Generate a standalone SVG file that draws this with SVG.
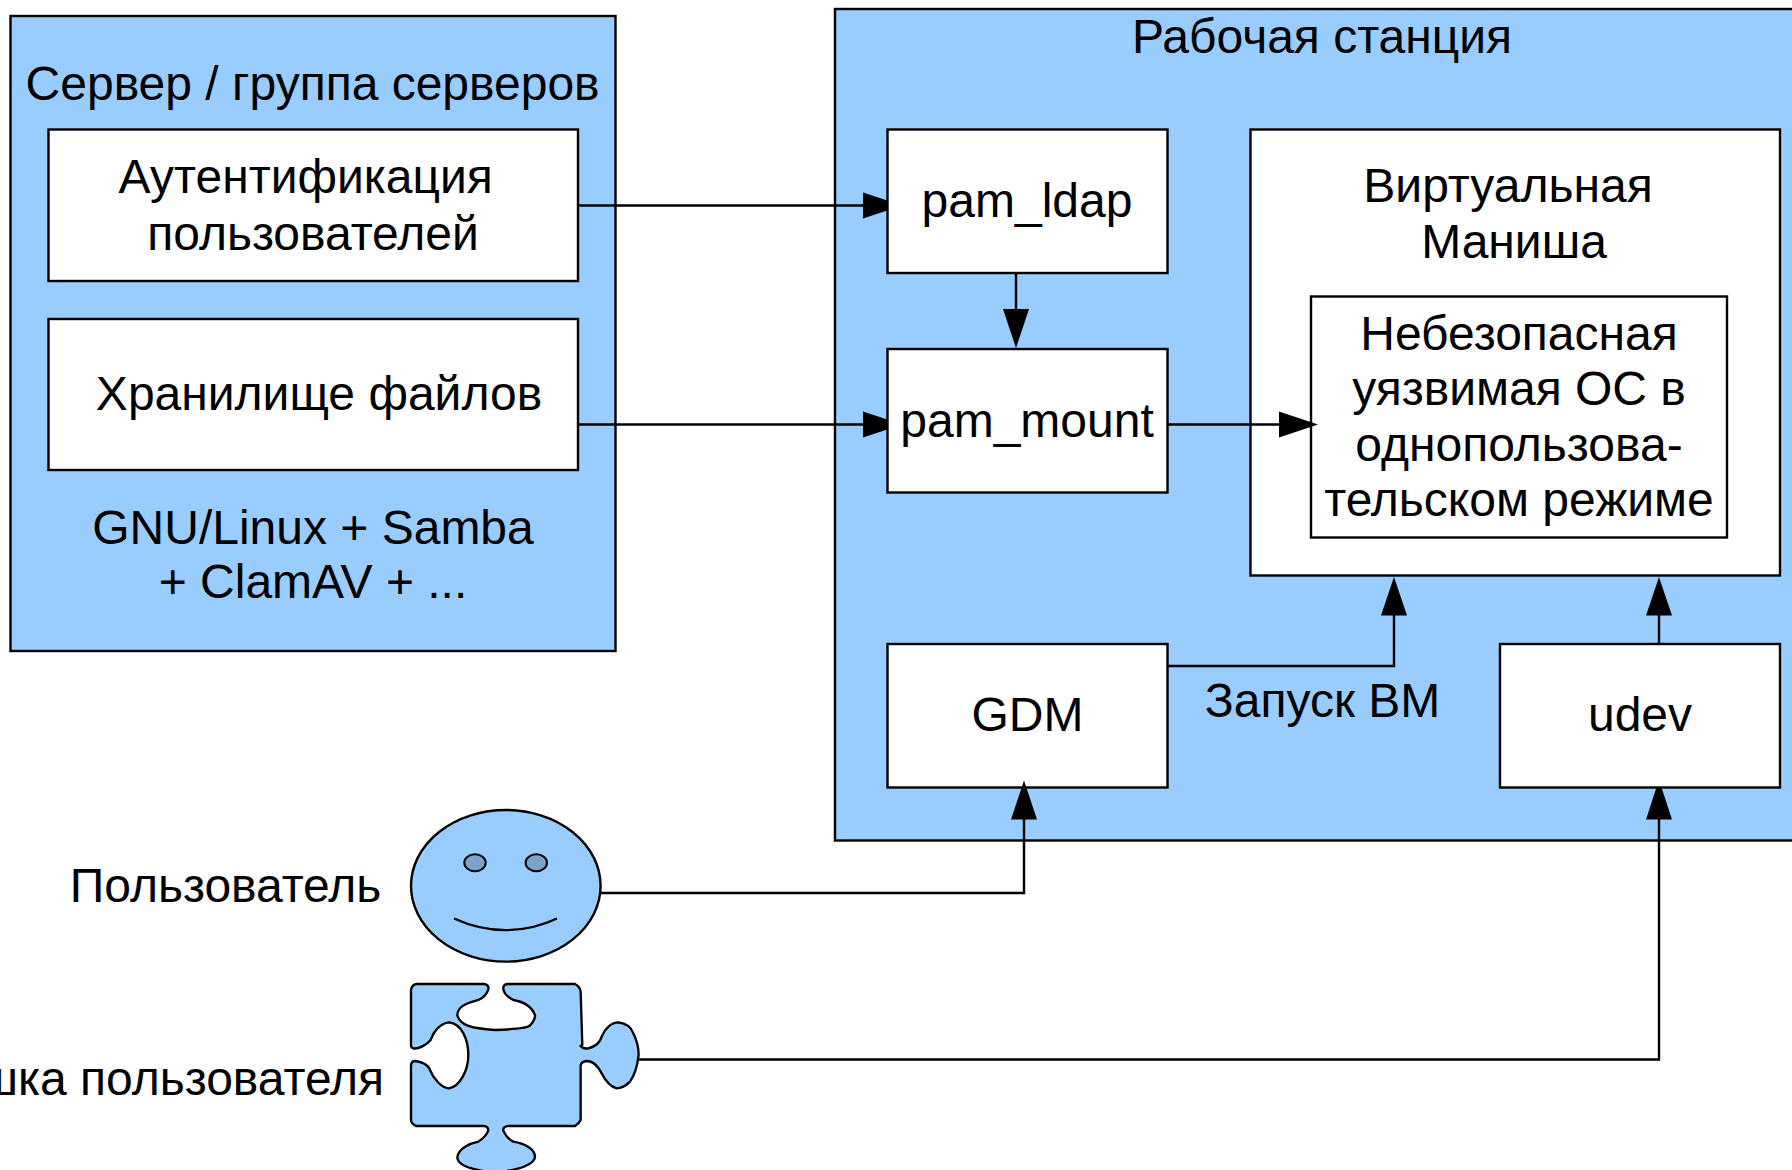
<svg xmlns="http://www.w3.org/2000/svg" width="1792" height="1170" viewBox="0 0 1792 1170">
<style>
text{font-family:"Liberation Sans",Arial,sans-serif;font-size:48px;fill:#000;text-anchor:middle}
.c{fill:#99ccff;stroke:#000;stroke-width:2.4}
.w{fill:#fff;stroke:#000;stroke-width:2.4}
.l{fill:none;stroke:#000;stroke-width:2.4}
.a{fill:#000;stroke:none}
</style>
<rect width="1792" height="1170" fill="#fff"/>
<g id="server">
<rect class="c" x="10.5" y="16" width="605" height="635"/>
<text x="312.6" y="100">Сервер / группа серверов</text>
<text x="313" y="544">GNU/Linux + Samba</text>
<text x="313" y="598">+ ClamAV + ...</text>
</g>
<g id="auth">
<rect class="w" x="48.5" y="129.5" width="529.5" height="151.5"/>
<text x="305.7" y="193">Аутентификация</text>
<text x="313" y="250">пользователей</text>
</g>
<g id="storage">
<rect class="w" x="48.5" y="319" width="529.5" height="151"/>
<text x="319" y="410">Хранилище файлов</text>
</g>
<g id="workstation">
<rect class="c" x="835" y="9" width="1000" height="831.5"/>
<text x="1322" y="53">Рабочая станция</text>
</g>
<g id="pam_ldap">
<rect class="w" x="887.5" y="129.5" width="280" height="143.5"/>
<text x="1027" y="217">pam_ldap</text>
</g>
<g id="pam_mount">
<rect class="w" x="887.5" y="349" width="280" height="143.5"/>
<text x="1027" y="437">pam_mount</text>
</g>
<g id="vm">
<rect class="w" x="1250.5" y="129.5" width="529.5" height="446"/>
<text x="1508" y="202">Виртуальная</text>
<text x="1514" y="258">Маниша</text>
</g>
<g id="guest">
<rect class="w" x="1311" y="296.5" width="416" height="241"/>
<text x="1519" y="350">Небезопасная</text>
<text x="1519" y="405">уязвимая ОС в</text>
<text x="1519" y="460.500">однопользова-</text>
<text x="1519" y="516">тельском режиме</text>
</g>
<g id="gdm">
<rect class="w" x="887.5" y="644" width="280" height="143.5"/>
<text x="1027.500" y="731">GDM</text>
</g>
<g id="udev">
<rect class="w" x="1500" y="644" width="280" height="143.5"/>
<text x="1640" y="731">udev</text>
</g>
<text id="start-vm-label" x="1322.500" y="717">Запуск ВМ</text>
<g id="user">
<ellipse class="c" cx="505.8" cy="885.8" rx="94.8" ry="75.8"/>
<ellipse cx="475" cy="862.7" rx="10.7" ry="8.5" fill="#7ba3cc" stroke="#000" stroke-width="2"/>
<ellipse cx="536.3" cy="862.7" rx="10.7" ry="8.5" fill="#7ba3cc" stroke="#000" stroke-width="2"/>
<path class="l" d="M454 918.5C488 934 524 934 557 918.5"/>
<text x="225.500" y="902">Пользователь</text>
</g>
<g id="usb">
<path class="c" transform="translate(380 780) scale(.3333)" style="stroke-width:7" d="M110 612L312 612Q328 614 325 628Q318 650 295 660C270 668 232 675 232 706C240 735 270 745 345 750C400 748 440 745 448 738C458 730 466 715 465 705C455 680 430 665 400 660C385 652 368 640 370 622Q372 612 385 612L585 612Q600 620 602 635L607 795Q602 798 602 798Q610 808 625 805C645 800 660 790 665 770C675 745 695 727 715 727C740 730 755 745 760 760C770 780 776 800 776 825C772 860 765 885 750 905C735 920 720 925 710 925C690 920 675 900 665 880C655 860 640 843 620 843Q605 845 602 855L602 1020Q598 1030 585 1038L385 1038Q368 1040 370 1052Q380 1075 400 1085C430 1090 466 1105 465 1132C460 1155 420 1170 345 1178C270 1170 232 1155 232 1132C235 1105 270 1090 295 1085Q318 1070 325 1052Q325 1040 312 1038L108 1038Q93 1030 93 1020L93 855Q95 843 105 843C125 845 145 855 150 870C160 895 185 925 207 925C240 920 265 870 265 825C265 780 245 730 207 727C180 730 160 755 152 780C140 795 115 808 100 805Q93 803 93 795L93 630Q95 615 110 612Z"/>
<text x="384" y="1095" style="text-anchor:end">шка пользователя</text>
</g>
<g id="connectors">
<path class="l" d="M578 205.500H870"/><path class="a" d="M863 192.500L888 200.800V210.200L863 218.500Z"/>
<path class="l" d="M578 424.500H870"/><path class="a" d="M863 411.500L888 419.800V429.200L863 437.500Z"/>
<path class="l" d="M1168 424.500H1285"/><path class="a" d="M1318 424.500L1279 411.500V437.500Z"/>
<path class="l" d="M1016 273V315"/><path class="a" d="M1016 348L1003 309H1029Z"/>
<path class="l" d="M1168 666H1394V610"/><path class="a" d="M1394 577L1381 615.500H1407Z"/>
<path class="l" d="M1659 644V610"/><path class="a" d="M1659 577L1646 615.500H1672Z"/>
<path class="l" d="M639 1059.500H1659V815"/><path class="a" d="M1656.300 788H1661.700L1672 819.500H1646Z"/>
<path class="l" d="M600.700 893H1024V815"/><path class="a" d="M1024 780.500L1011 819.500H1037Z"/>
</g>
</svg>
